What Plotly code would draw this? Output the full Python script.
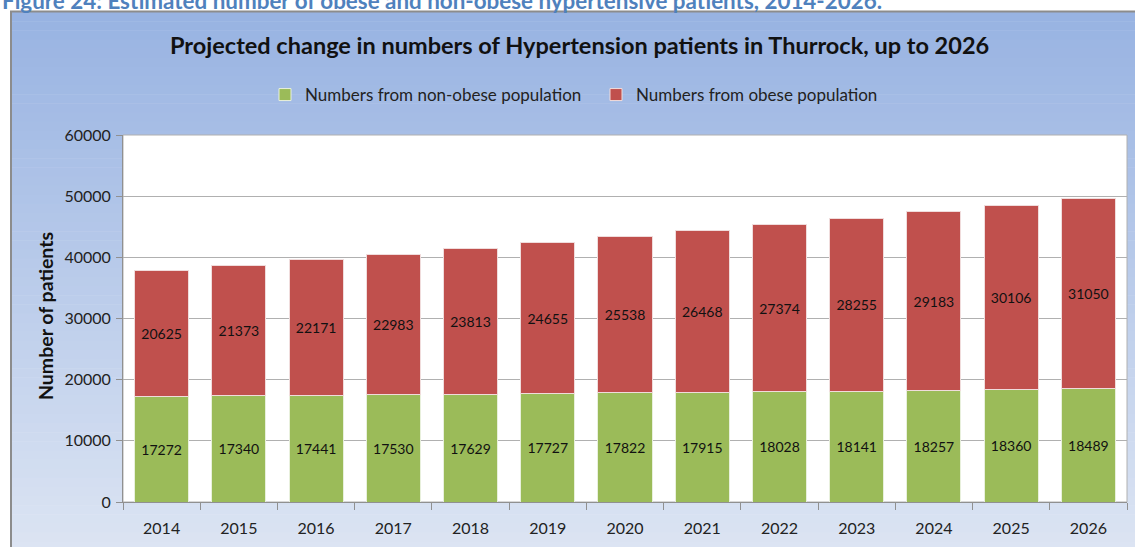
import plotly.graph_objects as go

years = ["2014", "2015", "2016", "2017", "2018", "2019", "2020", "2021", "2022", "2023", "2024", "2025", "2026"]
non_obese = [17272, 17340, 17441, 17530, 17629, 17727, 17822, 17915, 18028, 18141, 18257, 18360, 18489]
obese = [20625, 21373, 22171, 22983, 23813, 24655, 25538, 26468, 27374, 28255, 29183, 30106, 31050]
y_ticks = [0, 10000, 20000, 30000, 40000, 50000, 60000]

W, H = 1135, 547
L, R, T, B = 123, 1127, 135, 502

def px(x):
    return (x - L) / (R - L)

def py(y):
    return (B - y) / (B - T)

FONT = "Lato"

fig = go.Figure()
fig.add_trace(go.Bar(
    x=years, y=non_obese, name="Numbers from non-obese population",
    marker=dict(color="#9bbb59", line=dict(color="#e8f0dc", width=1)),
    text=[str(v) for v in non_obese], textposition="inside", insidetextanchor="middle",
    textfont=dict(color="#111111", size=14, family=FONT), textangle=0,
))
fig.add_trace(go.Bar(
    x=years, y=obese, name="Numbers from obese population",
    marker=dict(color="#c0504d", line=dict(color="#f0dcdc", width=1)),
    text=[str(v) for v in obese], textposition="inside", insidetextanchor="middle",
    textfont=dict(color="#111111", size=14, family=FONT), textangle=0,
))

shapes = []
# gradient background bands
top_c = (152, 179, 226)
bot_c = (221, 229, 243)
y0, y1 = 12, 560
n = 60
for i in range(n):
    a = y0 + (y1 - y0) * i / n
    b = y0 + (y1 - y0) * (i + 1) / n + 0.5
    t = i / (n - 1)
    c = tuple(round(top_c[k] + (bot_c[k] - top_c[k]) * t) for k in range(3))
    shapes.append(dict(type="rect", xref="paper", yref="paper",
                       x0=px(11), x1=px(1145), y0=py(a), y1=py(b),
                       fillcolor="rgb(%d,%d,%d)" % c, line=dict(width=0), layer="below"))
# outer frame
shapes.append(dict(type="rect", xref="paper", yref="paper",
                   x0=px(11), x1=px(1150), y0=py(11.5), y1=py(560),
                   fillcolor="rgba(0,0,0,0)", line=dict(color="#8c8c8c", width=2), layer="below"))
# white plot area
shapes.append(dict(type="rect", xref="paper", yref="paper",
                   x0=0, x1=1, y0=0, y1=1,
                   fillcolor="white", line=dict(color="#b0b0b0", width=1), layer="below"))

annotations = [
    dict(text="<b>Figure 24: Estimated number of obese and non-obese hypertensive patients, 2014-2026.</b>",
         xref="paper", yref="paper", x=px(0), y=py(0), xanchor="left", yanchor="middle",
         showarrow=False, font=dict(family=FONT, size=22.4, color="#4f81bd")),
    dict(text="<b>Projected change in numbers of Hypertension patients in Thurrock, up to 2026</b>",
         xref="paper", yref="paper", x=px(579), y=py(45), xanchor="center", yanchor="middle",
         showarrow=False, font=dict(family=FONT, size=23.5, color="#111111")),
    dict(text="<b>Number of patients</b>",
         xref="paper", yref="paper", x=px(45), y=py(316), xanchor="center", yanchor="middle",
         textangle=-90, showarrow=False, font=dict(family=FONT, size=19.5, color="#111111")),
]

fig.update_layout(
    width=W, height=H,
    margin=dict(l=L, r=W - R, t=T, b=H - B, autoexpand=False),
    paper_bgcolor="white", plot_bgcolor="rgba(0,0,0,0)",
    barmode="stack", bargap=0.3,
    font=dict(family=FONT, size=16, color="#222222"),
    showlegend=True,
    legend=dict(orientation="h", xref="paper", yref="paper", x=px(265), y=py(95),
                xanchor="left", yanchor="middle", bgcolor="rgba(0,0,0,0)",
                traceorder="normal",
                font=dict(family=FONT, size=17, color="#222222"),
                itemwidth=30, tracegroupgap=0, entrywidth=286),
    shapes=shapes, annotations=annotations,
    uniformtext=dict(mode="show", minsize=10),
)
fig.update_xaxes(type="category", showgrid=False, ticks="outside", tickson="boundaries",
                 ticklen=7, tickcolor="#909090", showline=True, linecolor="#909090",
                 ticklabelstandoff=12,
                 tickfont=dict(family=FONT, size=16, color="#222222"))
fig.update_yaxes(range=[0, 60000], tickvals=y_ticks, ticktext=[str(v) for v in y_ticks],
                 showgrid=True, gridcolor="#b0b0b0", gridwidth=1, zeroline=False,
                 ticks="outside", ticklen=6, tickcolor="#909090", showline=True, linecolor="#909090",
                 ticklabelstandoff=2,
                 tickfont=dict(family=FONT, size=16, color="#222222"))

fig.write_html("out.html", config={"displayModeBar": False},
               post_script="document.body.style.margin='0';")
